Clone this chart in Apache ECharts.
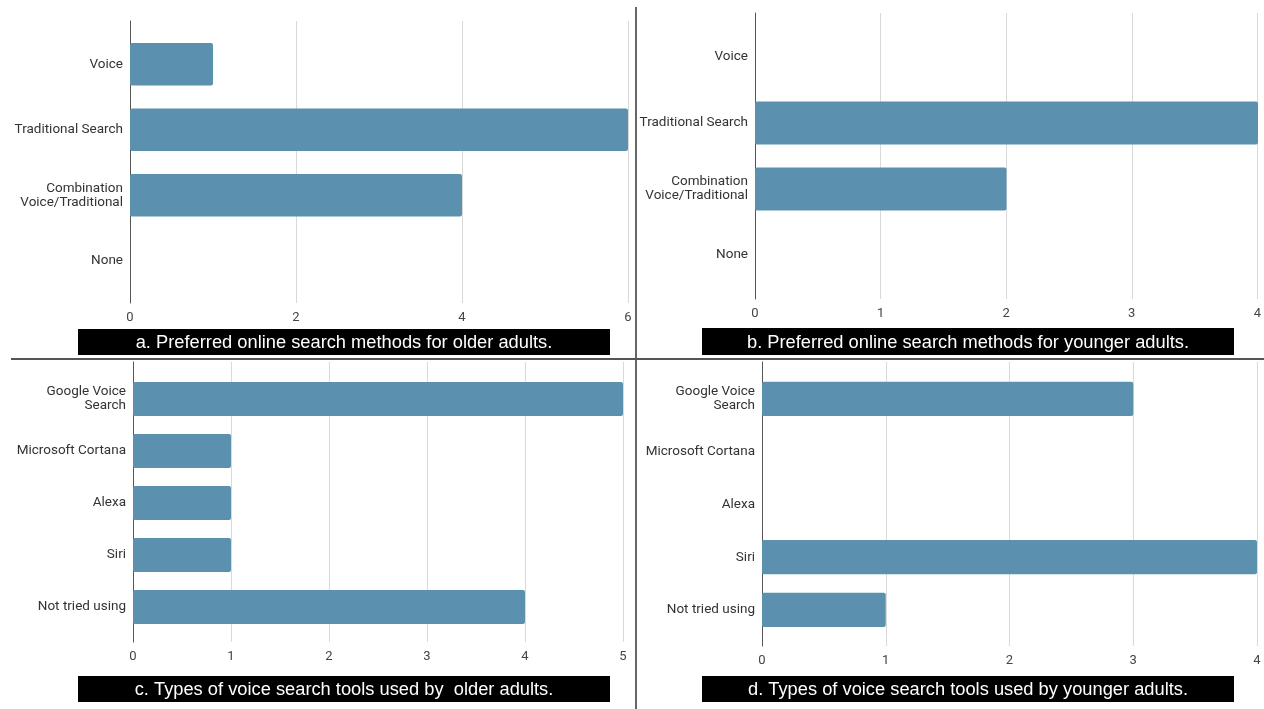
<!DOCTYPE html>
<html>
<head>
<meta charset="utf-8">
<script src="https://cdn.jsdelivr.net/npm/echarts@6/dist/echarts.min.js"></script>
<style>
html,body{margin:0;padding:0;background:#fff;}
#chart{width:1264px;height:709px;}
</style>
</head>
<body>
<div id="chart"></div>
<script>
// ---- data ----
const methodCategories = ['Voice', 'Traditional Search', 'Combination\nVoice/Traditional', 'None'];
const methodsOlder = [1, 6, 4, 0];
const methodsYounger = [0, 4, 2, 0];
const toolCategories = ['Google Voice\nSearch', 'Microsoft Cortana', 'Alexa', 'Siri', 'Not tried using'];
const toolsOlder = [5, 1, 1, 1, 4];
const toolsYounger = [3, 0, 0, 4, 1];
const captions = [
  'a. Preferred online search methods for older adults.',
  'b. Preferred online search methods for younger adults.',
  'c. Types of voice search tools used by  older adults.',
  'd. Types of voice search tools used by younger adults.'
];
const axisMax = [6, 4, 5, 4];
const axisInterval = [2, 1, 1, 1];

// ---- layout ----
const BAR = '#5b91ae';
const FONT = 'Roboto, "Liberation Sans", Arial, sans-serif';
// frame: area of axis line / gridlines ; bars: area of category bands
const panels = [
  {frame:{left:130, top:21, width:498, height:282}, bars:{top:31.5, height:262}, cats:methodCategories, data:methodsOlder},
  {frame:{left:755, top:13, width:503, height:286}, bars:{top:24, height:264}, cats:methodCategories, data:methodsYounger},
  {frame:{left:133, top:362, width:490, height:280}, bars:{top:373, height:260}, cats:toolCategories, data:toolsOlder},
  {frame:{left:762, top:362, width:495, height:284}, bars:{top:372.6, height:263.7}, cats:toolCategories, data:toolsYounger}
];
const captionBoxes = [
  {x:78, y:329, w:532, h:26},
  {x:702, y:328, w:532, h:27},
  {x:78, y:676, w:532, h:26},
  {x:702, y:676, w:532, h:26}
];

const grid = [], xAxis = [], yAxis = [], series = [];
panels.forEach((p, i) => {
  const gf = grid.length;
  grid.push({left:p.frame.left, top:p.frame.top, width:p.frame.width, height:p.frame.height, containLabel:false});
  grid.push({left:p.frame.left, top:p.bars.top, width:p.frame.width, height:p.bars.height, containLabel:false});
  // frame axes
  xAxis.push({
    type:'value', gridIndex:gf, min:0, max:axisMax[i], interval:axisInterval[i],
    axisLine:{show:false}, axisTick:{show:false},
    axisLabel:{color:'#444', fontSize:13, fontFamily:FONT, margin:8},
    splitLine:{show:true, lineStyle:{color:'#d9d9d9', width:1}}
  });
  yAxis.push({
    type:'value', gridIndex:gf, min:0, max:1,
    axisLine:{show:true, lineStyle:{color:'#555', width:1}},
    axisTick:{show:false}, axisLabel:{show:false}, splitLine:{show:false}
  });
  // bar axes
  xAxis.push({
    type:'value', gridIndex:gf+1, min:0, max:axisMax[i], show:false, splitLine:{show:false}
  });
  yAxis.push({
    type:'category', gridIndex:gf+1, data:p.cats, inverse:true,
    axisLine:{show:false}, axisTick:{show:false}, splitLine:{show:false},
    axisLabel:{color:'#333', fontSize:13.5, fontFamily:FONT, margin:7, lineHeight:14, align:'right'}
  });
  series.push({
    type:'bar', xAxisIndex:gf+1, yAxisIndex:gf+1, data:p.data,
    barCategoryGap:'35%',
    itemStyle:{color:BAR, borderRadius:2},
    silent:true
  });
});

const graphic = [];
captionBoxes.forEach((b, i) => {
  graphic.push({type:'rect', left:b.x, top:b.y, shape:{width:b.w, height:b.h}, style:{fill:'#000'}, z:10});
  graphic.push({type:'text', x:b.x + b.w/2, y:b.y + b.h/2 + 1,
    style:{text:captions[i], fill:'#fff', font:'18.3px "Liberation Sans", Arial, sans-serif', textAlign:'center', textVerticalAlign:'middle'}, z:11});
});
// dividers
graphic.push({type:'line', shape:{x1:636, y1:7, x2:636, y2:709}, style:{stroke:'#666', lineWidth:2}, z:12});
graphic.push({type:'line', shape:{x1:11, y1:359, x2:1264, y2:359}, style:{stroke:'#555', lineWidth:2}, z:12});

const chart = echarts.init(document.getElementById('chart'), null, {renderer:'canvas'});
chart.setOption({animation:false, backgroundColor:'#fff', grid, xAxis, yAxis, series, graphic});
</script>
</body>
</html>
